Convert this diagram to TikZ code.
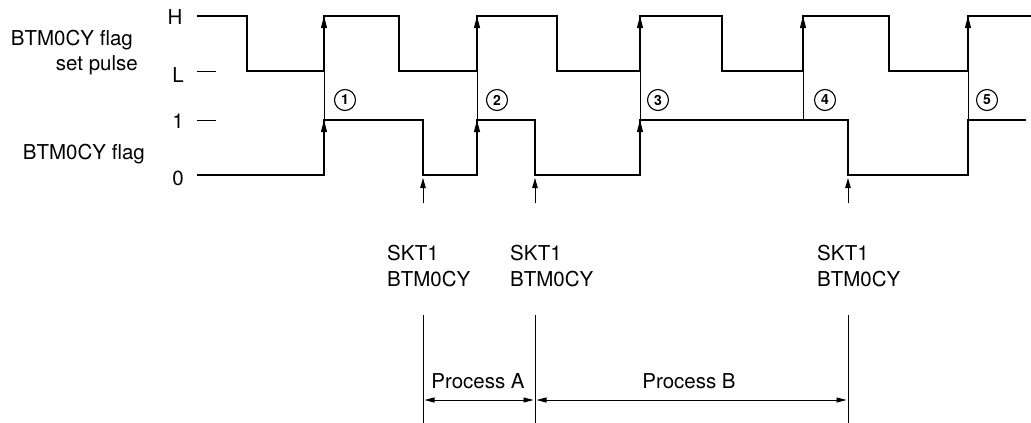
\documentclass[tikz,border=0pt]{standalone}
\usepackage{fontspec}
\setmainfont{TeX Gyre Heros}
\usetikzlibrary{arrows.meta}
\begin{document}
\begin{tikzpicture}[x=1pt,y=-1pt,
  wave/.style={line width=2.9pt, line join=miter},
  thin/.style={line width=0.9pt},
  uparrow/.style={thin, -{Triangle[length=12pt,width=6pt]}},
  markarrow/.style={thin, -{Triangle[length=10pt,width=5.5pt]}},
  dimarrow/.style={thin, {Triangle[length=10pt,width=5pt]}-{Triangle[length=10pt,width=5pt]}, shorten <=1.5pt, shorten >=1.5pt},
  lbl/.style={font=\fontsize{20.5}{25}\selectfont, inner sep=0pt},
  num/.style={circle, draw, line width=1.1pt, minimum size=21pt, inner sep=0pt, font=\fontsize{14}{14}\selectfont\bfseries}
]
\useasboundingbox (0,0) rectangle (1031,423);

% level labels
\node[lbl, anchor=base] (lH) at (175,24) {H};
\node[lbl, anchor=base] (lL) at (178,82) {L};
\node[lbl, anchor=base] (l1) at (178,128) {1};
\node[lbl, anchor=base] (l0) at (178,185) {0};
\draw[thin] (197,71) -- (216,71);
\draw[thin] (197,120) -- (216,120);

% signal names
\node[lbl, anchor=base east] (n1a) at (133,45) {BTM0CY flag};
\node[lbl, anchor=base east] (n1b) at (138,70) {set pulse};
\node[lbl, anchor=base east] (n2) at (145,159) {BTM0CY flag};

% set pulse waveform
\draw[wave] (197,16) -| (247,71) -| (324,16) -| (399,71) -| (477,16) -| (557,71)
  -| (640,16) -| (722,71) -| (803,16) -| (889,71) -| (968,16) -- (1031,16);
% flag waveform
\draw[wave] (197,175) -| (324,120) -| (423,175) -| (477,120) -| (535,175)
  -| (640,120) -| (848,175) -| (968,120) -- (1026,120);

% arrowheads on rising edges
\foreach \x in {324,477,640,803,968} {
  \draw[uparrow] (\x,71) -- (\x,16);
  \draw[thin] (\x,71) -- (\x,120);
}
\foreach \x in {324,477,640} {
  \draw[uparrow] (\x,175) -- (\x,120);
}

% circled numbers
\node[num] (c1) at (345,100) {1};
\node[num] (c2) at (497,100) {2};
\node[num] (c3) at (658,100) {3};
\node[num] (c4) at (825,100) {4};
\node[num] (c5) at (987,100) {5};

% instruction markers
\foreach \x/\n in {423/a,535/b,848/c} {
  \coordinate (m\n) at (\x,203);
  \coordinate (t\n) at (\x,178);
  \draw[markarrow] (m\n) -- (t\n);
}
\node[lbl, anchor=base west] (sa1) at (387,260) {SKT1};
\node[lbl, anchor=base west] (sa2) at (387,286) {BTM0CY};
\node[lbl, anchor=base west] (sb1) at (510,260) {SKT1};
\node[lbl, anchor=base west] (sb2) at (510,286) {BTM0CY};
\node[lbl, anchor=base west] (sc1) at (817,260) {SKT1};
\node[lbl, anchor=base west] (sc2) at (817,286) {BTM0CY};

% process intervals
\foreach \x/\n in {423/a,535/b,848/c} {
  \coordinate (v\n top) at (\x,315);
  \coordinate (v\n bot) at (\x,423);
  \coordinate (v\n mid) at (\x,400);
  \draw[thin] (v\n top) -- (v\n bot);
}
\draw[dimarrow] (vamid) -- (vbmid);
\draw[dimarrow] (vbmid) -- (vcmid);
\node[lbl, anchor=base] (pA) at (478,388) {Process A};
\node[lbl, anchor=base] (pB) at (689,388) {Process B};
\end{tikzpicture}
\end{document}
